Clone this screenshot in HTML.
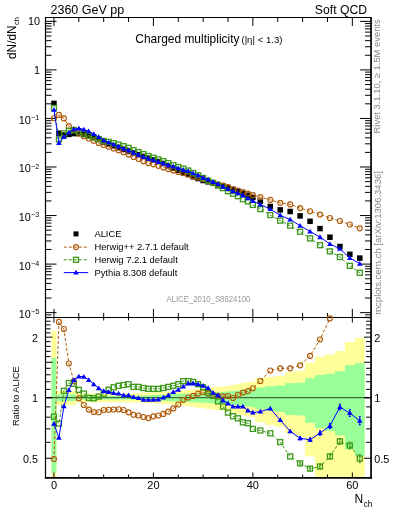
<!DOCTYPE html><html><head><meta charset="utf-8"><style>html,body{margin:0;padding:0;background:#fff;width:393px;height:512px;overflow:hidden;position:relative}</style></head><body><svg width="393" height="512" viewBox="0 0 393 512" style="position:absolute;left:0;top:0;will-change:transform">
<defs><clipPath id="cm"><rect x="45.5" y="17.5" width="326" height="300"/></clipPath><clipPath id="cr"><rect x="45.5" y="317.5" width="326" height="160"/></clipPath><clipPath id="cr2"><rect x="40" y="312" width="336" height="168"/></clipPath></defs>
<g clip-path="url(#cr)">
<path d="M51.46,331.04 L56.44,331.04 L56.44,390.98 L61.41,390.98 L61.41,390.98 L66.38,390.98 L66.38,390.98 L71.36,390.98 L71.36,390.98 L76.33,390.98 L76.33,393.44 L81.30,393.44 L81.30,393.44 L86.27,393.44 L86.27,393.44 L91.25,393.44 L91.25,393.44 L96.22,393.44 L96.22,393.44 L101.19,393.44 L101.19,393.44 L106.17,393.44 L106.17,393.44 L111.14,393.44 L111.14,393.44 L116.11,393.44 L116.11,393.44 L121.09,393.44 L121.09,393.44 L126.06,393.44 L126.06,393.44 L131.03,393.44 L131.03,393.24 L136.00,393.24 L136.00,393.04 L140.98,393.04 L140.98,392.84 L145.95,392.84 L145.95,392.64 L150.92,392.64 L150.92,392.45 L155.90,392.45 L155.90,392.18 L160.87,392.18 L160.87,391.92 L165.84,391.92 L165.84,391.66 L170.82,391.66 L170.82,391.40 L175.79,391.40 L175.79,391.14 L180.76,391.14 L180.76,390.54 L185.73,390.54 L185.73,389.95 L190.71,389.95 L190.71,389.36 L195.68,389.36 L195.68,388.77 L200.65,388.77 L200.65,388.19 L205.63,388.19 L205.63,387.77 L210.60,387.77 L210.60,387.35 L215.57,387.35 L215.57,386.93 L220.55,386.93 L220.55,386.51 L225.52,386.51 L225.52,386.10 L230.49,386.10 L230.49,385.06 L235.46,385.06 L235.46,384.03 L240.44,384.03 L240.44,383.01 L245.41,383.01 L245.41,382.26 L250.38,382.26 L250.38,381.77 L255.36,381.77 L255.36,378.56 L265.30,378.56 L265.30,376.96 L275.25,376.96 L275.25,375.93 L285.19,375.93 L285.19,372.33 L295.14,372.33 L295.14,370.84 L305.09,370.84 L305.09,362.86 L315.03,362.86 L315.03,356.81 L324.98,356.81 L324.98,354.70 L334.92,354.70 L334.92,351.04 L344.87,351.04 L344.87,342.09 L354.82,342.09 L354.82,338.03 L364.76,338.03 L364.76,739.44 L354.82,739.44 L354.82,590.52 L344.87,590.52 L344.87,504.64 L334.92,504.64 L334.92,485.98 L324.98,485.98 L324.98,477.09 L315.03,477.09 L315.03,456.52 L305.09,456.52 L305.09,436.69 L295.14,436.69 L295.14,433.60 L285.19,433.60 L285.19,426.76 L275.25,426.76 L275.25,424.95 L265.30,424.95 L265.30,422.25 L255.36,422.25 L255.36,417.19 L250.38,417.19 L250.38,416.47 L245.41,416.47 L245.41,415.37 L240.44,415.37 L240.44,413.92 L235.46,413.92 L235.46,412.49 L230.49,412.49 L230.49,411.08 L225.52,411.08 L225.52,410.53 L220.55,410.53 L220.55,409.99 L215.57,409.99 L215.57,409.44 L210.60,409.44 L210.60,408.91 L205.63,408.91 L205.63,408.37 L200.65,408.37 L200.65,407.64 L195.68,407.64 L195.68,406.92 L190.71,406.92 L190.71,406.21 L185.73,406.21 L185.73,405.50 L180.76,405.50 L180.76,404.79 L175.79,404.79 L175.79,404.49 L170.82,404.49 L170.82,404.19 L165.84,404.19 L165.84,403.89 L160.87,403.89 L160.87,403.59 L155.90,403.59 L155.90,403.29 L150.92,403.29 L150.92,403.07 L145.95,403.07 L145.95,402.85 L140.98,402.85 L140.98,402.62 L136.00,402.62 L136.00,402.40 L131.03,402.40 L131.03,402.18 L126.06,402.18 L126.06,402.18 L121.09,402.18 L121.09,402.18 L116.11,402.18 L116.11,402.18 L111.14,402.18 L111.14,402.18 L106.17,402.18 L106.17,402.18 L101.19,402.18 L101.19,402.18 L96.22,402.18 L96.22,402.18 L91.25,402.18 L91.25,402.18 L86.27,402.18 L86.27,402.18 L81.30,402.18 L81.30,402.18 L76.33,402.18 L76.33,404.98 L71.36,404.98 L71.36,404.98 L66.38,404.98 L66.38,404.98 L61.41,404.98 L61.41,404.98 L56.44,404.98 L56.44,600.00 L51.46,600.00Z" fill="#ffff99"/>
<path d="M51.46,357.91 L56.44,357.91 L56.44,394.44 L61.41,394.44 L61.41,394.44 L66.38,394.44 L66.38,394.44 L71.36,394.44 L71.36,394.44 L76.33,394.44 L76.33,395.97 L81.30,395.97 L81.30,395.97 L86.27,395.97 L86.27,395.97 L91.25,395.97 L91.25,395.97 L96.22,395.97 L96.22,395.97 L101.19,395.97 L101.19,395.97 L106.17,395.97 L106.17,395.97 L111.14,395.97 L111.14,395.97 L116.11,395.97 L116.11,395.97 L121.09,395.97 L121.09,395.97 L126.06,395.97 L126.06,395.97 L131.03,395.97 L131.03,395.80 L136.00,395.80 L136.00,395.63 L140.98,395.63 L140.98,395.46 L145.95,395.46 L145.95,395.29 L150.92,395.29 L150.92,395.12 L155.90,395.12 L155.90,394.91 L160.87,394.91 L160.87,394.69 L165.84,394.69 L165.84,394.48 L170.82,394.48 L170.82,394.27 L175.79,394.27 L175.79,394.06 L180.76,394.06 L180.76,393.85 L185.73,393.85 L185.73,393.65 L190.71,393.65 L190.71,393.44 L195.68,393.44 L195.68,393.23 L200.65,393.23 L200.65,393.02 L205.63,393.02 L205.63,392.73 L210.60,392.73 L210.60,392.43 L215.57,392.43 L215.57,392.13 L220.55,392.13 L220.55,391.84 L225.52,391.84 L225.52,391.55 L230.49,391.55 L230.49,391.06 L235.46,391.06 L235.46,390.57 L240.44,390.57 L240.44,390.09 L245.41,390.09 L245.41,389.61 L250.38,389.61 L250.38,389.14 L255.36,389.14 L255.36,387.41 L265.30,387.41 L265.30,386.25 L275.25,386.25 L275.25,385.49 L285.19,385.49 L285.19,383.24 L295.14,383.24 L295.14,382.87 L305.09,382.87 L305.09,378.21 L315.03,378.21 L315.03,375.12 L324.98,375.12 L324.98,373.71 L334.92,373.71 L334.92,371.35 L344.87,371.35 L344.87,365.36 L354.82,365.36 L354.82,363.16 L364.76,363.16 L364.76,455.67 L354.82,455.67 L354.82,449.61 L344.87,449.61 L344.87,435.60 L334.92,435.60 L334.92,430.88 L324.98,430.88 L324.98,428.24 L315.03,428.24 L315.03,422.83 L305.09,422.83 L305.09,415.57 L295.14,415.57 L295.14,415.04 L285.19,415.04 L285.19,411.90 L275.25,411.90 L275.25,410.88 L265.30,410.88 L265.30,409.36 L255.36,409.36 L255.36,407.20 L250.38,407.20 L250.38,406.61 L245.41,406.61 L245.41,406.03 L240.44,406.03 L240.44,405.46 L235.46,405.46 L235.46,404.89 L230.49,404.89 L230.49,404.32 L225.52,404.32 L225.52,403.98 L220.55,403.98 L220.55,403.65 L215.57,403.65 L215.57,403.31 L210.60,403.31 L210.60,402.98 L205.63,402.98 L205.63,402.64 L200.65,402.64 L200.65,402.41 L195.68,402.41 L195.68,402.18 L190.71,402.18 L190.71,401.95 L185.73,401.95 L185.73,401.72 L180.76,401.72 L180.76,401.49 L175.79,401.49 L175.79,401.27 L170.82,401.27 L170.82,401.04 L165.84,401.04 L165.84,400.81 L160.87,400.81 L160.87,400.59 L155.90,400.59 L155.90,400.36 L150.92,400.36 L150.92,400.18 L145.95,400.18 L145.95,400.00 L140.98,400.00 L140.98,399.82 L136.00,399.82 L136.00,399.64 L131.03,399.64 L131.03,399.46 L126.06,399.46 L126.06,399.46 L121.09,399.46 L121.09,399.46 L116.11,399.46 L116.11,399.46 L111.14,399.46 L111.14,399.46 L106.17,399.46 L106.17,399.46 L101.19,399.46 L101.19,399.46 L96.22,399.46 L96.22,399.46 L91.25,399.46 L91.25,399.46 L86.27,399.46 L86.27,399.46 L81.30,399.46 L81.30,399.46 L76.33,399.46 L76.33,401.08 L71.36,401.08 L71.36,401.08 L66.38,401.08 L66.38,401.08 L61.41,401.08 L61.41,401.08 L56.44,401.08 L56.44,472.86 L51.46,472.86Z" fill="#99ff99"/>
</g>
<path d="M45.5,397.65H51.46" stroke="#000" stroke-width="1.4" fill="none"/>
<path d="M51.46,397.65H364.76" stroke="#3f6e3f" stroke-width="1.4" fill="none"/>
<path d="M364.76,397.65H371.05" stroke="#000" stroke-width="1.4" fill="none"/>
<path d="M45.5,17.5H371.05" stroke="#000" stroke-width="1.2" fill="none"/>
<path d="M45.5,16.9V478.6" stroke="#000" stroke-width="1.2" fill="none"/>
<path d="M371.05,16.9V478.65" stroke="#000" stroke-width="1.7" fill="none"/>
<path d="M44.9,477.8H371.9" stroke="#000" stroke-width="1.7" fill="none"/>
<line x1="45.5" y1="317.5" x2="371.05" y2="317.5" stroke="#000" stroke-width="1"/>
<path d="M53.95,17.5v8.5 M53.95,317.5v-8.5 M53.95,317.5v5 M53.95,477.5v-5 M78.81,17.5v4.5 M78.81,317.5v-4.5 M78.81,317.5v3 M78.81,477.5v-3 M103.68,17.5v4.5 M103.68,317.5v-4.5 M103.68,317.5v3 M103.68,477.5v-3 M128.55,17.5v4.5 M128.55,317.5v-4.5 M128.55,317.5v3 M128.55,477.5v-3 M153.41,17.5v8.5 M153.41,317.5v-8.5 M153.41,317.5v5 M153.41,477.5v-5 M178.28,17.5v4.5 M178.28,317.5v-4.5 M178.28,317.5v3 M178.28,477.5v-3 M203.14,17.5v4.5 M203.14,317.5v-4.5 M203.14,317.5v3 M203.14,477.5v-3 M228.00,17.5v4.5 M228.00,317.5v-4.5 M228.00,317.5v3 M228.00,477.5v-3 M252.87,17.5v8.5 M252.87,317.5v-8.5 M252.87,317.5v5 M252.87,477.5v-5 M277.74,17.5v4.5 M277.74,317.5v-4.5 M277.74,317.5v3 M277.74,477.5v-3 M302.60,17.5v4.5 M302.60,317.5v-4.5 M302.60,317.5v3 M302.60,477.5v-3 M327.46,17.5v4.5 M327.46,317.5v-4.5 M327.46,317.5v3 M327.46,477.5v-3 M352.33,17.5v8.5 M352.33,317.5v-8.5 M352.33,317.5v5 M352.33,477.5v-5 M45.5,317.35h6 M371.05,317.35h-6 M45.5,314.87h6 M371.05,314.87h-6 M45.5,312.65h11 M371.05,312.65h-11 M45.5,298.03h6 M371.05,298.03h-6 M45.5,289.49h6 M371.05,289.49h-6 M45.5,283.42h6 M371.05,283.42h-6 M45.5,278.72h6 M371.05,278.72h-6 M45.5,274.87h6 M371.05,274.87h-6 M45.5,271.62h6 M371.05,271.62h-6 M45.5,268.80h6 M371.05,268.80h-6 M45.5,266.32h6 M371.05,266.32h-6 M45.5,264.10h11 M371.05,264.10h-11 M45.5,249.48h6 M371.05,249.48h-6 M45.5,240.94h6 M371.05,240.94h-6 M45.5,234.87h6 M371.05,234.87h-6 M45.5,230.17h6 M371.05,230.17h-6 M45.5,226.32h6 M371.05,226.32h-6 M45.5,223.07h6 M371.05,223.07h-6 M45.5,220.25h6 M371.05,220.25h-6 M45.5,217.77h6 M371.05,217.77h-6 M45.5,215.55h11 M371.05,215.55h-11 M45.5,200.93h6 M371.05,200.93h-6 M45.5,192.39h6 M371.05,192.39h-6 M45.5,186.32h6 M371.05,186.32h-6 M45.5,181.62h6 M371.05,181.62h-6 M45.5,177.77h6 M371.05,177.77h-6 M45.5,174.52h6 M371.05,174.52h-6 M45.5,171.70h6 M371.05,171.70h-6 M45.5,169.22h6 M371.05,169.22h-6 M45.5,167.00h11 M371.05,167.00h-11 M45.5,152.38h6 M371.05,152.38h-6 M45.5,143.84h6 M371.05,143.84h-6 M45.5,137.77h6 M371.05,137.77h-6 M45.5,133.07h6 M371.05,133.07h-6 M45.5,129.22h6 M371.05,129.22h-6 M45.5,125.97h6 M371.05,125.97h-6 M45.5,123.15h6 M371.05,123.15h-6 M45.5,120.67h6 M371.05,120.67h-6 M45.5,118.45h11 M371.05,118.45h-11 M45.5,103.83h6 M371.05,103.83h-6 M45.5,95.29h6 M371.05,95.29h-6 M45.5,89.22h6 M371.05,89.22h-6 M45.5,84.52h6 M371.05,84.52h-6 M45.5,80.67h6 M371.05,80.67h-6 M45.5,77.42h6 M371.05,77.42h-6 M45.5,74.60h6 M371.05,74.60h-6 M45.5,72.12h6 M371.05,72.12h-6 M45.5,69.90h11 M371.05,69.90h-11 M45.5,55.28h6 M371.05,55.28h-6 M45.5,46.74h6 M371.05,46.74h-6 M45.5,40.67h6 M371.05,40.67h-6 M45.5,35.97h6 M371.05,35.97h-6 M45.5,32.12h6 M371.05,32.12h-6 M45.5,28.87h6 M371.05,28.87h-6 M45.5,26.05h6 M371.05,26.05h-6 M45.5,23.57h6 M371.05,23.57h-6 M45.5,21.35h11 M371.05,21.35h-11 M45.5,458.25h7 M371.05,458.25h-7 M45.5,442.32h5 M371.05,442.32h-5 M45.5,428.86h5 M371.05,428.86h-5 M45.5,417.19h5 M371.05,417.19h-5 M45.5,406.90h5 M371.05,406.90h-5 M45.5,397.70h7 M371.05,397.70h-7 M45.5,389.37h5 M371.05,389.37h-5 M45.5,381.77h5 M371.05,381.77h-5 M45.5,374.78h5 M371.05,374.78h-5 M45.5,368.31h5 M371.05,368.31h-5 M45.5,362.28h7 M371.05,362.28h-7 M45.5,356.64h5 M371.05,356.64h-5 M45.5,351.35h5 M371.05,351.35h-5 M45.5,346.35h5 M371.05,346.35h-5 M45.5,341.63h5 M371.05,341.63h-5 M45.5,337.15h7 M371.05,337.15h-7 M45.5,332.89h5 M371.05,332.89h-5 M45.5,328.82h5 M371.05,328.82h-5 M45.5,324.94h5 M371.05,324.94h-5 M45.5,321.22h5 M371.05,321.22h-5 M45.5,317.66h5 M371.05,317.66h-5" stroke="#000" stroke-width="1" fill="none"/>
<g clip-path="url(#cr2)">
<path d="M53.95,459.00 L58.92,321.90 L63.90,329.00 L68.87,363.50 L73.84,381.00 L78.81,398.20 L83.79,405.00 L88.76,409.60 L93.73,412.00 L98.71,412.20 L103.68,410.00 L108.65,409.70 L113.63,409.50 L118.60,409.20 L123.57,410.00 L128.55,412.30 L133.52,414.70 L138.49,415.50 L143.46,417.00 L148.44,418.10 L153.41,416.30 L158.38,415.50 L163.36,413.90 L168.33,411.60 L173.30,408.40 L178.28,404.50 L183.25,399.80 L188.22,397.50 L193.19,395.90 L198.17,393.60 L203.14,392.00 L208.11,393.60 L213.09,395.00 L218.06,395.80 L223.03,396.30 L228.00,396.00 L232.98,398.00 L237.95,394.70 L242.92,392.60 L247.90,391.10 L252.87,388.20 L260.33,381.00 L270.28,370.50 L280.22,368.30 L290.17,368.30 L300.11,365.30 L310.06,355.90 L320.01,339.50 L329.95,318.30" fill="none" stroke="#b05a08" stroke-width="1" stroke-dasharray="3,2"/>
<circle cx="53.95" cy="459.00" r="2.5" fill="none" stroke="#b05a08" stroke-width="1.15"/>
<circle cx="58.92" cy="321.90" r="2.5" fill="none" stroke="#b05a08" stroke-width="1.15"/>
<circle cx="63.90" cy="329.00" r="2.5" fill="none" stroke="#b05a08" stroke-width="1.15"/>
<circle cx="68.87" cy="363.50" r="2.5" fill="none" stroke="#b05a08" stroke-width="1.15"/>
<circle cx="73.84" cy="381.00" r="2.5" fill="none" stroke="#b05a08" stroke-width="1.15"/>
<circle cx="78.81" cy="398.20" r="2.5" fill="none" stroke="#b05a08" stroke-width="1.15"/>
<circle cx="83.79" cy="405.00" r="2.5" fill="none" stroke="#b05a08" stroke-width="1.15"/>
<circle cx="88.76" cy="409.60" r="2.5" fill="none" stroke="#b05a08" stroke-width="1.15"/>
<circle cx="93.73" cy="412.00" r="2.5" fill="none" stroke="#b05a08" stroke-width="1.15"/>
<circle cx="98.71" cy="412.20" r="2.5" fill="none" stroke="#b05a08" stroke-width="1.15"/>
<circle cx="103.68" cy="410.00" r="2.5" fill="none" stroke="#b05a08" stroke-width="1.15"/>
<circle cx="108.65" cy="409.70" r="2.5" fill="none" stroke="#b05a08" stroke-width="1.15"/>
<circle cx="113.63" cy="409.50" r="2.5" fill="none" stroke="#b05a08" stroke-width="1.15"/>
<circle cx="118.60" cy="409.20" r="2.5" fill="none" stroke="#b05a08" stroke-width="1.15"/>
<circle cx="123.57" cy="410.00" r="2.5" fill="none" stroke="#b05a08" stroke-width="1.15"/>
<circle cx="128.55" cy="412.30" r="2.5" fill="none" stroke="#b05a08" stroke-width="1.15"/>
<circle cx="133.52" cy="414.70" r="2.5" fill="none" stroke="#b05a08" stroke-width="1.15"/>
<circle cx="138.49" cy="415.50" r="2.5" fill="none" stroke="#b05a08" stroke-width="1.15"/>
<circle cx="143.46" cy="417.00" r="2.5" fill="none" stroke="#b05a08" stroke-width="1.15"/>
<circle cx="148.44" cy="418.10" r="2.5" fill="none" stroke="#b05a08" stroke-width="1.15"/>
<circle cx="153.41" cy="416.30" r="2.5" fill="none" stroke="#b05a08" stroke-width="1.15"/>
<circle cx="158.38" cy="415.50" r="2.5" fill="none" stroke="#b05a08" stroke-width="1.15"/>
<circle cx="163.36" cy="413.90" r="2.5" fill="none" stroke="#b05a08" stroke-width="1.15"/>
<circle cx="168.33" cy="411.60" r="2.5" fill="none" stroke="#b05a08" stroke-width="1.15"/>
<circle cx="173.30" cy="408.40" r="2.5" fill="none" stroke="#b05a08" stroke-width="1.15"/>
<circle cx="178.28" cy="404.50" r="2.5" fill="none" stroke="#b05a08" stroke-width="1.15"/>
<circle cx="183.25" cy="399.80" r="2.5" fill="none" stroke="#b05a08" stroke-width="1.15"/>
<circle cx="188.22" cy="397.50" r="2.5" fill="none" stroke="#b05a08" stroke-width="1.15"/>
<circle cx="193.19" cy="395.90" r="2.5" fill="none" stroke="#b05a08" stroke-width="1.15"/>
<circle cx="198.17" cy="393.60" r="2.5" fill="none" stroke="#b05a08" stroke-width="1.15"/>
<circle cx="203.14" cy="392.00" r="2.5" fill="none" stroke="#b05a08" stroke-width="1.15"/>
<circle cx="208.11" cy="393.60" r="2.5" fill="none" stroke="#b05a08" stroke-width="1.15"/>
<circle cx="213.09" cy="395.00" r="2.5" fill="none" stroke="#b05a08" stroke-width="1.15"/>
<circle cx="218.06" cy="395.80" r="2.5" fill="none" stroke="#b05a08" stroke-width="1.15"/>
<circle cx="223.03" cy="396.30" r="2.5" fill="none" stroke="#b05a08" stroke-width="1.15"/>
<circle cx="228.00" cy="396.00" r="2.5" fill="none" stroke="#b05a08" stroke-width="1.15"/>
<circle cx="232.98" cy="398.00" r="2.5" fill="none" stroke="#b05a08" stroke-width="1.15"/>
<circle cx="237.95" cy="394.70" r="2.5" fill="none" stroke="#b05a08" stroke-width="1.15"/>
<circle cx="242.92" cy="392.60" r="2.5" fill="none" stroke="#b05a08" stroke-width="1.15"/>
<circle cx="247.90" cy="391.10" r="2.5" fill="none" stroke="#b05a08" stroke-width="1.15"/>
<circle cx="252.87" cy="388.20" r="2.5" fill="none" stroke="#b05a08" stroke-width="1.15"/>
<circle cx="260.33" cy="381.00" r="2.5" fill="none" stroke="#b05a08" stroke-width="1.15"/>
<circle cx="270.28" cy="370.50" r="2.5" fill="none" stroke="#b05a08" stroke-width="1.15"/>
<circle cx="280.22" cy="368.30" r="2.5" fill="none" stroke="#b05a08" stroke-width="1.15"/>
<circle cx="290.17" cy="368.30" r="2.5" fill="none" stroke="#b05a08" stroke-width="1.15"/>
<circle cx="300.11" cy="365.30" r="2.5" fill="none" stroke="#b05a08" stroke-width="1.15"/>
<circle cx="310.06" cy="355.90" r="2.5" fill="none" stroke="#b05a08" stroke-width="1.15"/>
<circle cx="320.01" cy="339.50" r="2.5" fill="none" stroke="#b05a08" stroke-width="1.15"/>
<circle cx="329.95" cy="318.30" r="2.5" fill="none" stroke="#b05a08" stroke-width="1.15"/>
<path d="M53.95,416.70 L58.92,423.60 L63.90,390.80 L68.87,383.00 L73.84,383.80 L78.81,389.80 L83.79,393.60 L88.76,397.90 L93.73,398.30 L98.71,396.60 L103.68,393.60 L108.65,389.70 L113.63,387.30 L118.60,385.80 L123.57,385.00 L128.55,384.20 L133.52,386.90 L138.49,386.90 L143.46,388.00 L148.44,388.90 L153.41,388.90 L158.38,388.90 L163.36,388.00 L168.33,386.90 L173.30,385.80 L178.28,384.20 L183.25,381.10 L188.22,381.10 L193.19,381.90 L198.17,384.20 L203.14,387.30 L208.11,392.80 L213.09,395.90 L218.06,401.40 L223.03,406.50 L228.00,412.60 L232.98,416.20 L237.95,418.30 L242.92,422.30 L247.90,423.20 L252.87,428.90 L260.33,430.50 L270.28,433.30 L280.22,442.10 L290.17,456.40 L300.11,463.40 L310.06,468.60 L320.01,466.50 L329.95,456.40 L339.90,441.40 L349.84,445.50 L359.79,458.50" fill="none" stroke="#3c9818" stroke-width="1" stroke-dasharray="3,2"/>
<rect x="51.45" y="414.20" width="5" height="5" fill="none" stroke="#3c9818" stroke-width="1.3"/>
<rect x="56.42" y="421.10" width="5" height="5" fill="none" stroke="#3c9818" stroke-width="1.3"/>
<rect x="61.40" y="388.30" width="5" height="5" fill="none" stroke="#3c9818" stroke-width="1.3"/>
<rect x="66.37" y="380.50" width="5" height="5" fill="none" stroke="#3c9818" stroke-width="1.3"/>
<rect x="71.34" y="381.30" width="5" height="5" fill="none" stroke="#3c9818" stroke-width="1.3"/>
<rect x="76.31" y="387.30" width="5" height="5" fill="none" stroke="#3c9818" stroke-width="1.3"/>
<rect x="81.29" y="391.10" width="5" height="5" fill="none" stroke="#3c9818" stroke-width="1.3"/>
<rect x="86.26" y="395.40" width="5" height="5" fill="none" stroke="#3c9818" stroke-width="1.3"/>
<rect x="91.23" y="395.80" width="5" height="5" fill="none" stroke="#3c9818" stroke-width="1.3"/>
<rect x="96.21" y="394.10" width="5" height="5" fill="none" stroke="#3c9818" stroke-width="1.3"/>
<rect x="101.18" y="391.10" width="5" height="5" fill="none" stroke="#3c9818" stroke-width="1.3"/>
<rect x="106.15" y="387.20" width="5" height="5" fill="none" stroke="#3c9818" stroke-width="1.3"/>
<rect x="111.13" y="384.80" width="5" height="5" fill="none" stroke="#3c9818" stroke-width="1.3"/>
<rect x="116.10" y="383.30" width="5" height="5" fill="none" stroke="#3c9818" stroke-width="1.3"/>
<rect x="121.07" y="382.50" width="5" height="5" fill="none" stroke="#3c9818" stroke-width="1.3"/>
<rect x="126.05" y="381.70" width="5" height="5" fill="none" stroke="#3c9818" stroke-width="1.3"/>
<rect x="131.02" y="384.40" width="5" height="5" fill="none" stroke="#3c9818" stroke-width="1.3"/>
<rect x="135.99" y="384.40" width="5" height="5" fill="none" stroke="#3c9818" stroke-width="1.3"/>
<rect x="140.96" y="385.50" width="5" height="5" fill="none" stroke="#3c9818" stroke-width="1.3"/>
<rect x="145.94" y="386.40" width="5" height="5" fill="none" stroke="#3c9818" stroke-width="1.3"/>
<rect x="150.91" y="386.40" width="5" height="5" fill="none" stroke="#3c9818" stroke-width="1.3"/>
<rect x="155.88" y="386.40" width="5" height="5" fill="none" stroke="#3c9818" stroke-width="1.3"/>
<rect x="160.86" y="385.50" width="5" height="5" fill="none" stroke="#3c9818" stroke-width="1.3"/>
<rect x="165.83" y="384.40" width="5" height="5" fill="none" stroke="#3c9818" stroke-width="1.3"/>
<rect x="170.80" y="383.30" width="5" height="5" fill="none" stroke="#3c9818" stroke-width="1.3"/>
<rect x="175.78" y="381.70" width="5" height="5" fill="none" stroke="#3c9818" stroke-width="1.3"/>
<rect x="180.75" y="378.60" width="5" height="5" fill="none" stroke="#3c9818" stroke-width="1.3"/>
<rect x="185.72" y="378.60" width="5" height="5" fill="none" stroke="#3c9818" stroke-width="1.3"/>
<rect x="190.69" y="379.40" width="5" height="5" fill="none" stroke="#3c9818" stroke-width="1.3"/>
<rect x="195.67" y="381.70" width="5" height="5" fill="none" stroke="#3c9818" stroke-width="1.3"/>
<rect x="200.64" y="384.80" width="5" height="5" fill="none" stroke="#3c9818" stroke-width="1.3"/>
<rect x="205.61" y="390.30" width="5" height="5" fill="none" stroke="#3c9818" stroke-width="1.3"/>
<rect x="210.59" y="393.40" width="5" height="5" fill="none" stroke="#3c9818" stroke-width="1.3"/>
<rect x="215.56" y="398.90" width="5" height="5" fill="none" stroke="#3c9818" stroke-width="1.3"/>
<rect x="220.53" y="404.00" width="5" height="5" fill="none" stroke="#3c9818" stroke-width="1.3"/>
<rect x="225.50" y="410.10" width="5" height="5" fill="none" stroke="#3c9818" stroke-width="1.3"/>
<rect x="230.48" y="413.70" width="5" height="5" fill="none" stroke="#3c9818" stroke-width="1.3"/>
<rect x="235.45" y="415.80" width="5" height="5" fill="none" stroke="#3c9818" stroke-width="1.3"/>
<rect x="240.42" y="419.80" width="5" height="5" fill="none" stroke="#3c9818" stroke-width="1.3"/>
<rect x="245.40" y="420.70" width="5" height="5" fill="none" stroke="#3c9818" stroke-width="1.3"/>
<rect x="250.37" y="426.40" width="5" height="5" fill="none" stroke="#3c9818" stroke-width="1.3"/>
<rect x="257.83" y="428.00" width="5" height="5" fill="none" stroke="#3c9818" stroke-width="1.3"/>
<rect x="267.78" y="430.80" width="5" height="5" fill="none" stroke="#3c9818" stroke-width="1.3"/>
<rect x="277.72" y="439.60" width="5" height="5" fill="none" stroke="#3c9818" stroke-width="1.3"/>
<rect x="287.67" y="453.90" width="5" height="5" fill="none" stroke="#3c9818" stroke-width="1.3"/>
<rect x="297.61" y="460.90" width="5" height="5" fill="none" stroke="#3c9818" stroke-width="1.3"/>
<rect x="307.56" y="466.10" width="5" height="5" fill="none" stroke="#3c9818" stroke-width="1.3"/>
<rect x="317.51" y="464.00" width="5" height="5" fill="none" stroke="#3c9818" stroke-width="1.3"/>
<rect x="327.45" y="453.90" width="5" height="5" fill="none" stroke="#3c9818" stroke-width="1.3"/>
<rect x="337.40" y="438.90" width="5" height="5" fill="none" stroke="#3c9818" stroke-width="1.3"/>
<rect x="347.34" y="443.00" width="5" height="5" fill="none" stroke="#3c9818" stroke-width="1.3"/>
<rect x="357.29" y="456.00" width="5" height="5" fill="none" stroke="#3c9818" stroke-width="1.3"/>
<path d="M53.95,423.70 L58.92,437.80 L63.90,406.30 L68.87,390.00 L73.84,380.00 L78.81,376.50 L83.79,376.70 L88.76,380.00 L93.73,384.20 L98.71,388.20 L103.68,391.00 L108.65,392.00 L113.63,393.10 L118.60,393.60 L123.57,395.20 L128.55,395.20 L133.52,397.00 L138.49,398.00 L143.46,399.80 L148.44,399.80 L153.41,399.80 L158.38,399.50 L163.36,397.50 L168.33,395.20 L173.30,392.00 L178.28,389.70 L183.25,386.60 L188.22,383.40 L193.19,383.40 L198.17,384.20 L203.14,385.80 L208.11,388.00 L213.09,392.80 L218.06,395.30 L223.03,400.40 L228.00,403.40 L232.98,406.50 L237.95,406.50 L242.92,406.50 L247.90,410.50 L252.87,412.60 L260.33,411.60 L270.28,408.50 L280.22,420.10 L290.17,431.20 L300.11,438.30 L310.06,439.70 L320.01,433.10 L329.95,425.90 L339.90,407.00 L349.84,413.10 L359.79,420.80" fill="none" stroke="#0000ff" stroke-width="1"/>
<polygon points="53.95,420.90 56.75,425.70 51.15,425.70" fill="#0000ff"/>
<polygon points="58.92,435.00 61.72,439.80 56.12,439.80" fill="#0000ff"/>
<polygon points="63.90,403.50 66.70,408.30 61.10,408.30" fill="#0000ff"/>
<polygon points="68.87,387.20 71.67,392.00 66.07,392.00" fill="#0000ff"/>
<polygon points="73.84,377.20 76.64,382.00 71.04,382.00" fill="#0000ff"/>
<polygon points="78.81,373.70 81.61,378.50 76.02,378.50" fill="#0000ff"/>
<polygon points="83.79,373.90 86.59,378.70 80.99,378.70" fill="#0000ff"/>
<polygon points="88.76,377.20 91.56,382.00 85.96,382.00" fill="#0000ff"/>
<polygon points="93.73,381.40 96.53,386.20 90.93,386.20" fill="#0000ff"/>
<polygon points="98.71,385.40 101.51,390.20 95.91,390.20" fill="#0000ff"/>
<polygon points="103.68,388.20 106.48,393.00 100.88,393.00" fill="#0000ff"/>
<polygon points="108.65,389.20 111.45,394.00 105.85,394.00" fill="#0000ff"/>
<polygon points="113.63,390.30 116.43,395.10 110.83,395.10" fill="#0000ff"/>
<polygon points="118.60,390.80 121.40,395.60 115.80,395.60" fill="#0000ff"/>
<polygon points="123.57,392.40 126.37,397.20 120.77,397.20" fill="#0000ff"/>
<polygon points="128.55,392.40 131.35,397.20 125.75,397.20" fill="#0000ff"/>
<polygon points="133.52,394.20 136.32,399.00 130.72,399.00" fill="#0000ff"/>
<polygon points="138.49,395.20 141.29,400.00 135.69,400.00" fill="#0000ff"/>
<polygon points="143.46,397.00 146.26,401.80 140.66,401.80" fill="#0000ff"/>
<polygon points="148.44,397.00 151.24,401.80 145.64,401.80" fill="#0000ff"/>
<polygon points="153.41,397.00 156.21,401.80 150.61,401.80" fill="#0000ff"/>
<polygon points="158.38,396.70 161.18,401.50 155.58,401.50" fill="#0000ff"/>
<polygon points="163.36,394.70 166.16,399.50 160.56,399.50" fill="#0000ff"/>
<polygon points="168.33,392.40 171.13,397.20 165.53,397.20" fill="#0000ff"/>
<polygon points="173.30,389.20 176.10,394.00 170.50,394.00" fill="#0000ff"/>
<polygon points="178.28,386.90 181.08,391.70 175.47,391.70" fill="#0000ff"/>
<polygon points="183.25,383.80 186.05,388.60 180.45,388.60" fill="#0000ff"/>
<polygon points="188.22,380.60 191.02,385.40 185.42,385.40" fill="#0000ff"/>
<polygon points="193.19,380.60 195.99,385.40 190.39,385.40" fill="#0000ff"/>
<polygon points="198.17,381.40 200.97,386.20 195.37,386.20" fill="#0000ff"/>
<polygon points="203.14,383.00 205.94,387.80 200.34,387.80" fill="#0000ff"/>
<polygon points="208.11,385.20 210.91,390.00 205.31,390.00" fill="#0000ff"/>
<polygon points="213.09,390.00 215.89,394.80 210.29,394.80" fill="#0000ff"/>
<polygon points="218.06,392.50 220.86,397.30 215.26,397.30" fill="#0000ff"/>
<polygon points="223.03,397.60 225.83,402.40 220.23,402.40" fill="#0000ff"/>
<polygon points="228.00,400.60 230.81,405.40 225.20,405.40" fill="#0000ff"/>
<polygon points="232.98,403.70 235.78,408.50 230.18,408.50" fill="#0000ff"/>
<polygon points="237.95,403.70 240.75,408.50 235.15,408.50" fill="#0000ff"/>
<polygon points="242.92,403.70 245.72,408.50 240.12,408.50" fill="#0000ff"/>
<polygon points="247.90,407.70 250.70,412.50 245.10,412.50" fill="#0000ff"/>
<polygon points="252.87,409.80 255.67,414.60 250.07,414.60" fill="#0000ff"/>
<polygon points="260.33,408.80 263.13,413.60 257.53,413.60" fill="#0000ff"/>
<polygon points="270.28,405.70 273.08,410.50 267.48,410.50" fill="#0000ff"/>
<polygon points="280.22,417.30 283.02,422.10 277.42,422.10" fill="#0000ff"/>
<polygon points="290.17,428.40 292.97,433.20 287.37,433.20" fill="#0000ff"/>
<polygon points="300.11,435.50 302.91,440.30 297.31,440.30" fill="#0000ff"/>
<polygon points="310.06,436.90 312.86,441.70 307.26,441.70" fill="#0000ff"/>
<polygon points="320.01,430.30 322.81,435.10 317.21,435.10" fill="#0000ff"/>
<polygon points="329.95,423.10 332.75,427.90 327.15,427.90" fill="#0000ff"/>
<polygon points="339.90,404.20 342.70,409.00 337.10,409.00" fill="#0000ff"/>
<polygon points="349.84,410.30 352.64,415.10 347.04,415.10" fill="#0000ff"/>
<polygon points="359.79,418.00 362.59,422.80 356.99,422.80" fill="#0000ff"/>
<path d="M300.11,461.90V464.90M299.11,461.90h2M299.11,464.90h2 M310.06,466.80V470.40M309.06,466.80h2M309.06,470.40h2 M320.01,464.30V468.70M319.01,464.30h2M319.01,468.70h2 M329.95,453.90V458.90M328.95,453.90h2M328.95,458.90h2 M339.90,438.50V444.30M338.90,438.50h2M338.90,444.30h2 M349.84,442.10V448.90M348.84,442.10h2M348.84,448.90h2 M359.79,454.40V462.60M358.79,454.40h2M358.79,462.60h2" stroke="#3c9818" stroke-width="1" fill="none"/>
<path d="M300.11,436.80V439.80M299.11,436.80h2M299.11,439.80h2 M310.06,437.90V441.50M309.06,437.90h2M309.06,441.50h2 M320.01,430.90V435.30M319.01,430.90h2M319.01,435.30h2 M329.95,423.40V428.40M328.95,423.40h2M328.95,428.40h2 M339.90,404.10V409.90M338.90,404.10h2M338.90,409.90h2 M349.84,409.70V416.50M348.84,409.70h2M348.84,416.50h2 M359.79,416.70V424.90M358.79,416.70h2M358.79,424.90h2" stroke="#0000ff" stroke-width="1" fill="none"/>
</g>
<g clip-path="url(#cm)">
<rect x="51.20" y="100.65" width="5.5" height="5.5" fill="#000"/>
<rect x="56.17" y="130.45" width="5.5" height="5.5" fill="#000"/>
<rect x="61.15" y="132.25" width="5.5" height="5.5" fill="#000"/>
<rect x="66.12" y="131.65" width="5.5" height="5.5" fill="#000"/>
<rect x="71.09" y="130.85" width="5.5" height="5.5" fill="#000"/>
<rect x="76.06" y="130.75" width="5.5" height="5.5" fill="#000"/>
<rect x="81.04" y="131.75" width="5.5" height="5.5" fill="#000"/>
<rect x="86.01" y="132.85" width="5.5" height="5.5" fill="#000"/>
<rect x="90.98" y="134.55" width="5.5" height="5.5" fill="#000"/>
<rect x="95.96" y="136.65" width="5.5" height="5.5" fill="#000"/>
<rect x="100.93" y="139.25" width="5.5" height="5.5" fill="#000"/>
<rect x="105.90" y="141.12" width="5.5" height="5.5" fill="#000"/>
<rect x="110.88" y="142.93" width="5.5" height="5.5" fill="#000"/>
<rect x="115.85" y="144.73" width="5.5" height="5.5" fill="#000"/>
<rect x="120.82" y="146.54" width="5.5" height="5.5" fill="#000"/>
<rect x="125.80" y="148.34" width="5.5" height="5.5" fill="#000"/>
<rect x="130.77" y="150.14" width="5.5" height="5.5" fill="#000"/>
<rect x="135.74" y="151.93" width="5.5" height="5.5" fill="#000"/>
<rect x="140.71" y="153.73" width="5.5" height="5.5" fill="#000"/>
<rect x="145.69" y="155.40" width="5.5" height="5.5" fill="#000"/>
<rect x="150.66" y="157.08" width="5.5" height="5.5" fill="#000"/>
<rect x="155.63" y="158.75" width="5.5" height="5.5" fill="#000"/>
<rect x="160.61" y="160.75" width="5.5" height="5.5" fill="#000"/>
<rect x="165.58" y="163.00" width="5.5" height="5.5" fill="#000"/>
<rect x="170.55" y="165.25" width="5.5" height="5.5" fill="#000"/>
<rect x="175.53" y="167.50" width="5.5" height="5.5" fill="#000"/>
<rect x="180.50" y="169.85" width="5.5" height="5.5" fill="#000"/>
<rect x="185.47" y="171.80" width="5.5" height="5.5" fill="#000"/>
<rect x="190.44" y="174.05" width="5.5" height="5.5" fill="#000"/>
<rect x="195.42" y="175.80" width="5.5" height="5.5" fill="#000"/>
<rect x="200.39" y="177.75" width="5.5" height="5.5" fill="#000"/>
<rect x="205.36" y="179.10" width="5.5" height="5.5" fill="#000"/>
<rect x="210.34" y="180.55" width="5.5" height="5.5" fill="#000"/>
<rect x="215.31" y="182.00" width="5.5" height="5.5" fill="#000"/>
<rect x="220.28" y="183.25" width="5.5" height="5.5" fill="#000"/>
<rect x="225.25" y="184.80" width="5.5" height="5.5" fill="#000"/>
<rect x="230.23" y="186.55" width="5.5" height="5.5" fill="#000"/>
<rect x="235.20" y="188.45" width="5.5" height="5.5" fill="#000"/>
<rect x="240.17" y="190.55" width="5.5" height="5.5" fill="#000"/>
<rect x="245.15" y="192.45" width="5.5" height="5.5" fill="#000"/>
<rect x="250.12" y="194.65" width="5.5" height="5.5" fill="#000"/>
<rect x="257.58" y="198.45" width="5.5" height="5.5" fill="#000"/>
<rect x="267.53" y="203.75" width="5.5" height="5.5" fill="#000"/>
<rect x="277.47" y="207.15" width="5.5" height="5.5" fill="#000"/>
<rect x="287.42" y="208.75" width="5.5" height="5.5" fill="#000"/>
<rect x="297.36" y="213.15" width="5.5" height="5.5" fill="#000"/>
<rect x="307.31" y="218.55" width="5.5" height="5.5" fill="#000"/>
<rect x="317.26" y="225.85" width="5.5" height="5.5" fill="#000"/>
<rect x="327.20" y="234.45" width="5.5" height="5.5" fill="#000"/>
<rect x="337.15" y="243.75" width="5.5" height="5.5" fill="#000"/>
<rect x="347.09" y="251.55" width="5.5" height="5.5" fill="#000"/>
<rect x="357.04" y="255.35" width="5.5" height="5.5" fill="#000"/>
<path d="M53.95,118.20 L58.92,114.90 L63.90,118.42 L68.87,126.15 L73.84,129.57 L78.81,133.62 L83.79,136.26 L88.76,138.47 L93.73,140.75 L98.71,142.90 L103.68,144.97 L108.65,146.77 L113.63,148.53 L118.60,150.26 L123.57,152.26 L128.55,154.61 L133.52,156.99 L138.49,158.98 L143.46,161.14 L148.44,163.08 L153.41,164.32 L158.38,165.80 L163.36,167.41 L168.33,169.11 L173.30,170.58 L178.28,171.89 L183.25,173.11 L188.22,174.50 L193.19,176.37 L198.17,177.56 L203.14,179.12 L208.11,180.86 L213.09,182.65 L218.06,184.29 L223.03,185.66 L228.00,187.14 L232.98,189.37 L237.95,190.48 L242.92,192.07 L247.90,193.61 L252.87,195.11 L260.33,197.17 L270.28,199.93 L280.22,202.80 L290.17,204.40 L300.11,208.08 L310.06,211.21 L320.01,214.55 L329.95,218.04 L339.90,221.00 L349.84,224.50 L359.79,228.30" fill="none" stroke="#b05a08" stroke-width="1" stroke-dasharray="3,2"/>
<circle cx="53.95" cy="118.20" r="2.5" fill="none" stroke="#b05a08" stroke-width="1.15"/>
<circle cx="58.92" cy="114.90" r="2.5" fill="none" stroke="#b05a08" stroke-width="1.15"/>
<circle cx="63.90" cy="118.42" r="2.5" fill="none" stroke="#b05a08" stroke-width="1.15"/>
<circle cx="68.87" cy="126.15" r="2.5" fill="none" stroke="#b05a08" stroke-width="1.15"/>
<circle cx="73.84" cy="129.57" r="2.5" fill="none" stroke="#b05a08" stroke-width="1.15"/>
<circle cx="78.81" cy="133.62" r="2.5" fill="none" stroke="#b05a08" stroke-width="1.15"/>
<circle cx="83.79" cy="136.26" r="2.5" fill="none" stroke="#b05a08" stroke-width="1.15"/>
<circle cx="88.76" cy="138.47" r="2.5" fill="none" stroke="#b05a08" stroke-width="1.15"/>
<circle cx="93.73" cy="140.75" r="2.5" fill="none" stroke="#b05a08" stroke-width="1.15"/>
<circle cx="98.71" cy="142.90" r="2.5" fill="none" stroke="#b05a08" stroke-width="1.15"/>
<circle cx="103.68" cy="144.97" r="2.5" fill="none" stroke="#b05a08" stroke-width="1.15"/>
<circle cx="108.65" cy="146.77" r="2.5" fill="none" stroke="#b05a08" stroke-width="1.15"/>
<circle cx="113.63" cy="148.53" r="2.5" fill="none" stroke="#b05a08" stroke-width="1.15"/>
<circle cx="118.60" cy="150.26" r="2.5" fill="none" stroke="#b05a08" stroke-width="1.15"/>
<circle cx="123.57" cy="152.26" r="2.5" fill="none" stroke="#b05a08" stroke-width="1.15"/>
<circle cx="128.55" cy="154.61" r="2.5" fill="none" stroke="#b05a08" stroke-width="1.15"/>
<circle cx="133.52" cy="156.99" r="2.5" fill="none" stroke="#b05a08" stroke-width="1.15"/>
<circle cx="138.49" cy="158.98" r="2.5" fill="none" stroke="#b05a08" stroke-width="1.15"/>
<circle cx="143.46" cy="161.14" r="2.5" fill="none" stroke="#b05a08" stroke-width="1.15"/>
<circle cx="148.44" cy="163.08" r="2.5" fill="none" stroke="#b05a08" stroke-width="1.15"/>
<circle cx="153.41" cy="164.32" r="2.5" fill="none" stroke="#b05a08" stroke-width="1.15"/>
<circle cx="158.38" cy="165.80" r="2.5" fill="none" stroke="#b05a08" stroke-width="1.15"/>
<circle cx="163.36" cy="167.41" r="2.5" fill="none" stroke="#b05a08" stroke-width="1.15"/>
<circle cx="168.33" cy="169.11" r="2.5" fill="none" stroke="#b05a08" stroke-width="1.15"/>
<circle cx="173.30" cy="170.58" r="2.5" fill="none" stroke="#b05a08" stroke-width="1.15"/>
<circle cx="178.28" cy="171.89" r="2.5" fill="none" stroke="#b05a08" stroke-width="1.15"/>
<circle cx="183.25" cy="173.11" r="2.5" fill="none" stroke="#b05a08" stroke-width="1.15"/>
<circle cx="188.22" cy="174.50" r="2.5" fill="none" stroke="#b05a08" stroke-width="1.15"/>
<circle cx="193.19" cy="176.37" r="2.5" fill="none" stroke="#b05a08" stroke-width="1.15"/>
<circle cx="198.17" cy="177.56" r="2.5" fill="none" stroke="#b05a08" stroke-width="1.15"/>
<circle cx="203.14" cy="179.12" r="2.5" fill="none" stroke="#b05a08" stroke-width="1.15"/>
<circle cx="208.11" cy="180.86" r="2.5" fill="none" stroke="#b05a08" stroke-width="1.15"/>
<circle cx="213.09" cy="182.65" r="2.5" fill="none" stroke="#b05a08" stroke-width="1.15"/>
<circle cx="218.06" cy="184.29" r="2.5" fill="none" stroke="#b05a08" stroke-width="1.15"/>
<circle cx="223.03" cy="185.66" r="2.5" fill="none" stroke="#b05a08" stroke-width="1.15"/>
<circle cx="228.00" cy="187.14" r="2.5" fill="none" stroke="#b05a08" stroke-width="1.15"/>
<circle cx="232.98" cy="189.37" r="2.5" fill="none" stroke="#b05a08" stroke-width="1.15"/>
<circle cx="237.95" cy="190.48" r="2.5" fill="none" stroke="#b05a08" stroke-width="1.15"/>
<circle cx="242.92" cy="192.07" r="2.5" fill="none" stroke="#b05a08" stroke-width="1.15"/>
<circle cx="247.90" cy="193.61" r="2.5" fill="none" stroke="#b05a08" stroke-width="1.15"/>
<circle cx="252.87" cy="195.11" r="2.5" fill="none" stroke="#b05a08" stroke-width="1.15"/>
<circle cx="260.33" cy="197.17" r="2.5" fill="none" stroke="#b05a08" stroke-width="1.15"/>
<circle cx="270.28" cy="199.93" r="2.5" fill="none" stroke="#b05a08" stroke-width="1.15"/>
<circle cx="280.22" cy="202.80" r="2.5" fill="none" stroke="#b05a08" stroke-width="1.15"/>
<circle cx="290.17" cy="204.40" r="2.5" fill="none" stroke="#b05a08" stroke-width="1.15"/>
<circle cx="300.11" cy="208.08" r="2.5" fill="none" stroke="#b05a08" stroke-width="1.15"/>
<circle cx="310.06" cy="211.21" r="2.5" fill="none" stroke="#b05a08" stroke-width="1.15"/>
<circle cx="320.01" cy="214.55" r="2.5" fill="none" stroke="#b05a08" stroke-width="1.15"/>
<circle cx="329.95" cy="218.04" r="2.5" fill="none" stroke="#b05a08" stroke-width="1.15"/>
<circle cx="339.90" cy="221.00" r="2.5" fill="none" stroke="#b05a08" stroke-width="1.15"/>
<circle cx="349.84" cy="224.50" r="2.5" fill="none" stroke="#b05a08" stroke-width="1.15"/>
<circle cx="359.79" cy="228.30" r="2.5" fill="none" stroke="#b05a08" stroke-width="1.15"/>
<path d="M53.95,107.99 L58.92,139.45 L63.90,133.33 L68.87,130.85 L73.84,130.24 L78.81,131.59 L83.79,133.51 L88.76,135.65 L93.73,137.44 L98.71,139.13 L103.68,141.01 L108.65,141.94 L113.63,143.17 L118.60,144.61 L123.57,146.23 L128.55,147.83 L133.52,150.28 L138.49,152.08 L143.46,154.14 L148.44,156.03 L153.41,157.70 L158.38,159.38 L163.36,161.16 L168.33,163.14 L173.30,165.13 L178.28,166.99 L183.25,168.59 L188.22,170.54 L193.19,172.99 L198.17,175.29 L203.14,177.99 L208.11,180.67 L213.09,182.87 L218.06,185.64 L223.03,188.12 L228.00,191.15 L232.98,193.77 L237.95,196.17 L242.92,199.24 L247.90,201.35 L252.87,204.93 L260.33,209.12 L270.28,215.09 L280.22,220.62 L290.17,225.67 L300.11,231.76 L310.06,238.41 L320.01,245.21 L329.95,251.37 L339.90,257.05 L349.84,265.84 L359.79,272.78" fill="none" stroke="#3c9818" stroke-width="1" stroke-dasharray="3,2"/>
<rect x="51.45" y="105.49" width="5" height="5" fill="none" stroke="#3c9818" stroke-width="1.3"/>
<rect x="56.42" y="136.95" width="5" height="5" fill="none" stroke="#3c9818" stroke-width="1.3"/>
<rect x="61.40" y="130.83" width="5" height="5" fill="none" stroke="#3c9818" stroke-width="1.3"/>
<rect x="66.37" y="128.35" width="5" height="5" fill="none" stroke="#3c9818" stroke-width="1.3"/>
<rect x="71.34" y="127.74" width="5" height="5" fill="none" stroke="#3c9818" stroke-width="1.3"/>
<rect x="76.31" y="129.09" width="5" height="5" fill="none" stroke="#3c9818" stroke-width="1.3"/>
<rect x="81.29" y="131.01" width="5" height="5" fill="none" stroke="#3c9818" stroke-width="1.3"/>
<rect x="86.26" y="133.15" width="5" height="5" fill="none" stroke="#3c9818" stroke-width="1.3"/>
<rect x="91.23" y="134.94" width="5" height="5" fill="none" stroke="#3c9818" stroke-width="1.3"/>
<rect x="96.21" y="136.63" width="5" height="5" fill="none" stroke="#3c9818" stroke-width="1.3"/>
<rect x="101.18" y="138.51" width="5" height="5" fill="none" stroke="#3c9818" stroke-width="1.3"/>
<rect x="106.15" y="139.44" width="5" height="5" fill="none" stroke="#3c9818" stroke-width="1.3"/>
<rect x="111.13" y="140.67" width="5" height="5" fill="none" stroke="#3c9818" stroke-width="1.3"/>
<rect x="116.10" y="142.11" width="5" height="5" fill="none" stroke="#3c9818" stroke-width="1.3"/>
<rect x="121.07" y="143.73" width="5" height="5" fill="none" stroke="#3c9818" stroke-width="1.3"/>
<rect x="126.05" y="145.33" width="5" height="5" fill="none" stroke="#3c9818" stroke-width="1.3"/>
<rect x="131.02" y="147.78" width="5" height="5" fill="none" stroke="#3c9818" stroke-width="1.3"/>
<rect x="135.99" y="149.58" width="5" height="5" fill="none" stroke="#3c9818" stroke-width="1.3"/>
<rect x="140.96" y="151.64" width="5" height="5" fill="none" stroke="#3c9818" stroke-width="1.3"/>
<rect x="145.94" y="153.53" width="5" height="5" fill="none" stroke="#3c9818" stroke-width="1.3"/>
<rect x="150.91" y="155.20" width="5" height="5" fill="none" stroke="#3c9818" stroke-width="1.3"/>
<rect x="155.88" y="156.88" width="5" height="5" fill="none" stroke="#3c9818" stroke-width="1.3"/>
<rect x="160.86" y="158.66" width="5" height="5" fill="none" stroke="#3c9818" stroke-width="1.3"/>
<rect x="165.83" y="160.64" width="5" height="5" fill="none" stroke="#3c9818" stroke-width="1.3"/>
<rect x="170.80" y="162.63" width="5" height="5" fill="none" stroke="#3c9818" stroke-width="1.3"/>
<rect x="175.78" y="164.49" width="5" height="5" fill="none" stroke="#3c9818" stroke-width="1.3"/>
<rect x="180.75" y="166.09" width="5" height="5" fill="none" stroke="#3c9818" stroke-width="1.3"/>
<rect x="185.72" y="168.04" width="5" height="5" fill="none" stroke="#3c9818" stroke-width="1.3"/>
<rect x="190.69" y="170.49" width="5" height="5" fill="none" stroke="#3c9818" stroke-width="1.3"/>
<rect x="195.67" y="172.79" width="5" height="5" fill="none" stroke="#3c9818" stroke-width="1.3"/>
<rect x="200.64" y="175.49" width="5" height="5" fill="none" stroke="#3c9818" stroke-width="1.3"/>
<rect x="205.61" y="178.17" width="5" height="5" fill="none" stroke="#3c9818" stroke-width="1.3"/>
<rect x="210.59" y="180.37" width="5" height="5" fill="none" stroke="#3c9818" stroke-width="1.3"/>
<rect x="215.56" y="183.14" width="5" height="5" fill="none" stroke="#3c9818" stroke-width="1.3"/>
<rect x="220.53" y="185.62" width="5" height="5" fill="none" stroke="#3c9818" stroke-width="1.3"/>
<rect x="225.50" y="188.65" width="5" height="5" fill="none" stroke="#3c9818" stroke-width="1.3"/>
<rect x="230.48" y="191.27" width="5" height="5" fill="none" stroke="#3c9818" stroke-width="1.3"/>
<rect x="235.45" y="193.67" width="5" height="5" fill="none" stroke="#3c9818" stroke-width="1.3"/>
<rect x="240.42" y="196.74" width="5" height="5" fill="none" stroke="#3c9818" stroke-width="1.3"/>
<rect x="245.40" y="198.85" width="5" height="5" fill="none" stroke="#3c9818" stroke-width="1.3"/>
<rect x="250.37" y="202.43" width="5" height="5" fill="none" stroke="#3c9818" stroke-width="1.3"/>
<rect x="257.83" y="206.62" width="5" height="5" fill="none" stroke="#3c9818" stroke-width="1.3"/>
<rect x="267.78" y="212.59" width="5" height="5" fill="none" stroke="#3c9818" stroke-width="1.3"/>
<rect x="277.72" y="218.12" width="5" height="5" fill="none" stroke="#3c9818" stroke-width="1.3"/>
<rect x="287.67" y="223.17" width="5" height="5" fill="none" stroke="#3c9818" stroke-width="1.3"/>
<rect x="297.61" y="229.26" width="5" height="5" fill="none" stroke="#3c9818" stroke-width="1.3"/>
<rect x="307.56" y="235.91" width="5" height="5" fill="none" stroke="#3c9818" stroke-width="1.3"/>
<rect x="317.51" y="242.71" width="5" height="5" fill="none" stroke="#3c9818" stroke-width="1.3"/>
<rect x="327.45" y="248.87" width="5" height="5" fill="none" stroke="#3c9818" stroke-width="1.3"/>
<rect x="337.40" y="254.55" width="5" height="5" fill="none" stroke="#3c9818" stroke-width="1.3"/>
<rect x="347.34" y="263.34" width="5" height="5" fill="none" stroke="#3c9818" stroke-width="1.3"/>
<rect x="357.29" y="270.28" width="5" height="5" fill="none" stroke="#3c9818" stroke-width="1.3"/>
<path d="M53.95,109.68 L58.92,142.88 L63.90,137.08 L68.87,132.54 L73.84,129.33 L78.81,128.38 L83.79,129.43 L88.76,131.33 L93.73,134.04 L98.71,137.11 L103.68,140.38 L108.65,142.50 L113.63,144.57 L118.60,146.50 L123.57,148.69 L128.55,150.49 L133.52,152.72 L138.49,154.76 L143.46,156.99 L148.44,158.66 L153.41,160.33 L158.38,161.93 L163.36,163.45 L168.33,165.15 L173.30,166.62 L178.28,168.32 L183.25,169.92 L188.22,171.10 L193.19,173.35 L198.17,175.29 L203.14,177.63 L208.11,179.51 L213.09,182.12 L218.06,184.17 L223.03,186.65 L228.00,188.93 L232.98,191.42 L237.95,193.32 L242.92,195.42 L247.90,198.29 L252.87,201.00 L260.33,204.56 L270.28,209.11 L280.22,215.31 L290.17,219.59 L300.11,225.70 L310.06,231.44 L320.01,237.14 L329.95,244.01 L339.90,248.74 L349.84,258.02 L359.79,263.68" fill="none" stroke="#0000ff" stroke-width="1"/>
<polygon points="53.95,106.88 56.75,111.68 51.15,111.68" fill="#0000ff"/>
<polygon points="58.92,140.08 61.72,144.88 56.12,144.88" fill="#0000ff"/>
<polygon points="63.90,134.28 66.70,139.08 61.10,139.08" fill="#0000ff"/>
<polygon points="68.87,129.74 71.67,134.54 66.07,134.54" fill="#0000ff"/>
<polygon points="73.84,126.53 76.64,131.33 71.04,131.33" fill="#0000ff"/>
<polygon points="78.81,125.58 81.61,130.38 76.02,130.38" fill="#0000ff"/>
<polygon points="83.79,126.63 86.59,131.43 80.99,131.43" fill="#0000ff"/>
<polygon points="88.76,128.53 91.56,133.33 85.96,133.33" fill="#0000ff"/>
<polygon points="93.73,131.24 96.53,136.04 90.93,136.04" fill="#0000ff"/>
<polygon points="98.71,134.31 101.51,139.11 95.91,139.11" fill="#0000ff"/>
<polygon points="103.68,137.58 106.48,142.38 100.88,142.38" fill="#0000ff"/>
<polygon points="108.65,139.70 111.45,144.50 105.85,144.50" fill="#0000ff"/>
<polygon points="113.63,141.77 116.43,146.57 110.83,146.57" fill="#0000ff"/>
<polygon points="118.60,143.70 121.40,148.50 115.80,148.50" fill="#0000ff"/>
<polygon points="123.57,145.89 126.37,150.69 120.77,150.69" fill="#0000ff"/>
<polygon points="128.55,147.69 131.35,152.49 125.75,152.49" fill="#0000ff"/>
<polygon points="133.52,149.92 136.32,154.72 130.72,154.72" fill="#0000ff"/>
<polygon points="138.49,151.96 141.29,156.76 135.69,156.76" fill="#0000ff"/>
<polygon points="143.46,154.19 146.26,158.99 140.66,158.99" fill="#0000ff"/>
<polygon points="148.44,155.86 151.24,160.66 145.64,160.66" fill="#0000ff"/>
<polygon points="153.41,157.53 156.21,162.33 150.61,162.33" fill="#0000ff"/>
<polygon points="158.38,159.13 161.18,163.93 155.58,163.93" fill="#0000ff"/>
<polygon points="163.36,160.65 166.16,165.45 160.56,165.45" fill="#0000ff"/>
<polygon points="168.33,162.35 171.13,167.15 165.53,167.15" fill="#0000ff"/>
<polygon points="173.30,163.82 176.10,168.62 170.50,168.62" fill="#0000ff"/>
<polygon points="178.28,165.52 181.08,170.32 175.47,170.32" fill="#0000ff"/>
<polygon points="183.25,167.12 186.05,171.92 180.45,171.92" fill="#0000ff"/>
<polygon points="188.22,168.30 191.02,173.10 185.42,173.10" fill="#0000ff"/>
<polygon points="193.19,170.55 195.99,175.35 190.39,175.35" fill="#0000ff"/>
<polygon points="198.17,172.49 200.97,177.29 195.37,177.29" fill="#0000ff"/>
<polygon points="203.14,174.83 205.94,179.63 200.34,179.63" fill="#0000ff"/>
<polygon points="208.11,176.71 210.91,181.51 205.31,181.51" fill="#0000ff"/>
<polygon points="213.09,179.32 215.89,184.12 210.29,184.12" fill="#0000ff"/>
<polygon points="218.06,181.37 220.86,186.17 215.26,186.17" fill="#0000ff"/>
<polygon points="223.03,183.85 225.83,188.65 220.23,188.65" fill="#0000ff"/>
<polygon points="228.00,186.13 230.81,190.93 225.20,190.93" fill="#0000ff"/>
<polygon points="232.98,188.62 235.78,193.42 230.18,193.42" fill="#0000ff"/>
<polygon points="237.95,190.52 240.75,195.32 235.15,195.32" fill="#0000ff"/>
<polygon points="242.92,192.62 245.72,197.42 240.12,197.42" fill="#0000ff"/>
<polygon points="247.90,195.49 250.70,200.29 245.10,200.29" fill="#0000ff"/>
<polygon points="252.87,198.20 255.67,203.00 250.07,203.00" fill="#0000ff"/>
<polygon points="260.33,201.76 263.13,206.56 257.53,206.56" fill="#0000ff"/>
<polygon points="270.28,206.31 273.08,211.11 267.48,211.11" fill="#0000ff"/>
<polygon points="280.22,212.51 283.02,217.31 277.42,217.31" fill="#0000ff"/>
<polygon points="290.17,216.79 292.97,221.59 287.37,221.59" fill="#0000ff"/>
<polygon points="300.11,222.90 302.91,227.70 297.31,227.70" fill="#0000ff"/>
<polygon points="310.06,228.64 312.86,233.44 307.26,233.44" fill="#0000ff"/>
<polygon points="320.01,234.34 322.81,239.14 317.21,239.14" fill="#0000ff"/>
<polygon points="329.95,241.21 332.75,246.01 327.15,246.01" fill="#0000ff"/>
<polygon points="339.90,245.94 342.70,250.74 337.10,250.74" fill="#0000ff"/>
<polygon points="349.84,255.22 352.64,260.02 347.04,260.02" fill="#0000ff"/>
<polygon points="359.79,260.88 362.59,265.68 356.99,265.68" fill="#0000ff"/>
</g>
<text x="50.5" y="13.8" font-size="12.5" text-anchor="start" fill="#000" font-family="Liberation Sans, sans-serif" >2360 GeV pp</text>
<text x="367" y="13.8" font-size="12.2" text-anchor="end" fill="#000" font-family="Liberation Sans, sans-serif" >Soft QCD</text>
<text x="135.3" y="43.3" font-family="Liberation Sans, sans-serif" font-size="11.95">Charged multiplicity<tspan font-size="9.5" dx="2">(|η|</tspan><tspan font-size="9.5" dx="3">&lt; 1.3)</tspan></text>
<text x="39.9" y="25.1" font-size="10.8" text-anchor="end" fill="#000" font-family="Liberation Sans, sans-serif" >10</text>
<text x="39.9" y="73.8" font-size="10.8" text-anchor="end" fill="#000" font-family="Liberation Sans, sans-serif" >1</text>
<text x="30.8" y="123.85" font-size="10.8" text-anchor="end" font-family="Liberation Sans, sans-serif">10</text>
<text x="31.0" y="120.05" font-size="7.2" font-family="Liberation Sans, sans-serif">−1</text>
<text x="30.8" y="172.40" font-size="10.8" text-anchor="end" font-family="Liberation Sans, sans-serif">10</text>
<text x="31.0" y="168.60" font-size="7.2" font-family="Liberation Sans, sans-serif">−2</text>
<text x="30.8" y="220.95" font-size="10.8" text-anchor="end" font-family="Liberation Sans, sans-serif">10</text>
<text x="31.0" y="217.15" font-size="7.2" font-family="Liberation Sans, sans-serif">−3</text>
<text x="30.8" y="269.50" font-size="10.8" text-anchor="end" font-family="Liberation Sans, sans-serif">10</text>
<text x="31.0" y="265.70" font-size="7.2" font-family="Liberation Sans, sans-serif">−4</text>
<text x="30.8" y="318.05" font-size="10.8" text-anchor="end" font-family="Liberation Sans, sans-serif">10</text>
<text x="31.0" y="314.25" font-size="7.2" font-family="Liberation Sans, sans-serif">−5</text>
<text transform="translate(15.6,59) rotate(-90)" font-family="Liberation Sans, sans-serif" font-size="11.9">dN/dN<tspan font-size="7.5" dy="3.3" dx="0.3">ch</tspan></text>
<rect x="73.5" y="231.4" width="5" height="5" fill="#000"/>
<text x="94.4" y="237" font-size="9.4" text-anchor="start" fill="#000" font-family="Liberation Sans, sans-serif" >ALICE</text>
<line x1="63.8" y1="247.1" x2="88.2" y2="247.1" stroke="#b05a08" stroke-dasharray="3,2"/>
<circle cx="76.00" cy="247.10" r="2.5" fill="none" stroke="#b05a08" stroke-width="1.15"/>
<text x="94.4" y="250.2" font-size="9.4" text-anchor="start" fill="#000" font-family="Liberation Sans, sans-serif" >Herwig++ 2.7.1 default</text>
<line x1="63.8" y1="259.8" x2="88.2" y2="259.8" stroke="#3c9818" stroke-dasharray="3,2"/>
<rect x="73.50" y="257.30" width="5" height="5" fill="none" stroke="#3c9818" stroke-width="1.3"/>
<text x="94.4" y="262.9" font-size="9.4" text-anchor="start" fill="#000" font-family="Liberation Sans, sans-serif" >Herwig 7.2.1 default</text>
<line x1="63.8" y1="272.6" x2="88.2" y2="272.6" stroke="#0000ff"/>
<polygon points="76.00,269.80 78.80,274.60 73.20,274.60" fill="#0000ff"/>
<text x="94.4" y="275.7" font-size="9.4" text-anchor="start" fill="#000" font-family="Liberation Sans, sans-serif" >Pythia 8.308 default</text>
<text x="166.4" y="302.3" font-size="8.6" text-anchor="start" fill="#999" font-family="Liberation Sans, sans-serif" textLength="84" lengthAdjust="spacingAndGlyphs">ALICE_2010_S8624100</text>
<text transform="translate(380,133.4) rotate(-90)" font-family="Liberation Sans, sans-serif" font-size="9.4" fill="#888">Rivet 3.1.10, ≥ 1.5M events</text>
<text transform="translate(380.8,314.8) rotate(-90)" font-family="Liberation Sans, sans-serif" font-size="9.5" fill="#888">mcplots.cern.ch [arXiv:1306.3436]</text>
<text x="38" y="341.65" font-size="10.8" text-anchor="end" fill="#000" font-family="Liberation Sans, sans-serif" >2</text>
<text x="374.3" y="341.65" font-size="10.8" text-anchor="start" fill="#000" font-family="Liberation Sans, sans-serif" >2</text>
<text x="38" y="402.20" font-size="10.8" text-anchor="end" fill="#000" font-family="Liberation Sans, sans-serif" >1</text>
<text x="374.3" y="402.20" font-size="10.8" text-anchor="start" fill="#000" font-family="Liberation Sans, sans-serif" >1</text>
<text x="38" y="462.75" font-size="10.8" text-anchor="end" fill="#000" font-family="Liberation Sans, sans-serif" >0.5</text>
<text x="374.3" y="462.75" font-size="10.8" text-anchor="start" fill="#000" font-family="Liberation Sans, sans-serif" >0.5</text>
<text transform="translate(18.8,426) rotate(-90)" font-family="Liberation Sans, sans-serif" font-size="9.1">Ratio to ALICE</text>
<text x="53.95" y="488.9" font-size="11" text-anchor="middle" fill="#000" font-family="Liberation Sans, sans-serif" >0</text>
<text x="153.41" y="488.9" font-size="11" text-anchor="middle" fill="#000" font-family="Liberation Sans, sans-serif" >20</text>
<text x="252.87" y="488.9" font-size="11" text-anchor="middle" fill="#000" font-family="Liberation Sans, sans-serif" >40</text>
<text x="352.33" y="488.9" font-size="11" text-anchor="middle" fill="#000" font-family="Liberation Sans, sans-serif" >60</text>
<text x="354.6" y="502.8" font-family="Liberation Sans, sans-serif" font-size="12">N<tspan font-size="8.6" dy="3.9" dx="0.2">ch</tspan></text>
</svg></body></html>
